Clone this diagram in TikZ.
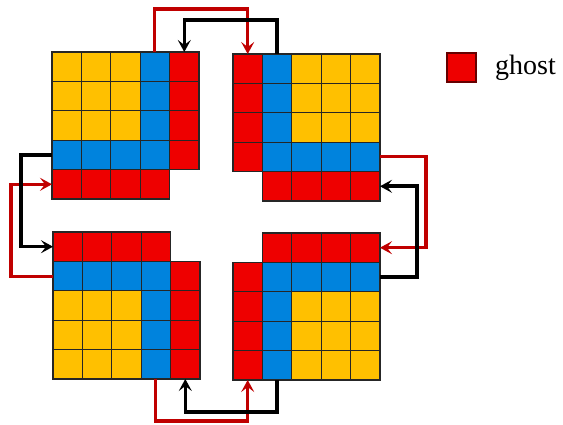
\documentclass[tikz,border=0pt]{standalone}
\usepackage{fontspec}
\setmainfont{Liberation Serif}
\usetikzlibrary{positioning, arrows.meta, calc}
\definecolor{ghostred}{HTML}{EE0000}
\definecolor{bandblue}{HTML}{0083DD}
\definecolor{coreyellow}{HTML}{FFC000}
\definecolor{linkred}{HTML}{C00000}

\tikzset{
  cell/.style={draw=black!85, line width=1.1pt, minimum size=29.4pt,
               inner sep=0pt, outer sep=0pt},
  cellY/.style={cell, fill=coreyellow},
  cellB/.style={cell, fill=bandblue},
  cellR/.style={cell, fill=ghostred},
  link/.style={line width=3.6pt, -{Stealth[length=12pt, width=13pt, inset=5pt]}},
  blacklink/.style={link, black},
  redlink/.style={link, linkred, line width=3.1pt}
}

% one 5x5 patch, rows top to bottom, N = no cell
\newcommand{\patch}[4]{%
  \foreach \cells [count=\r from 0] in {#4} {
    \foreach \c [count=\k from 0] in \cells {
      \if\c N\else
        \node[cell\c] (#1-\r-\k) at ({#2+\k*29.4+14.7},{#3-\r*29.4-14.7}) {};
      \fi
    }
  }}

\begin{document}
\begin{tikzpicture}[x=1pt, y=1pt]
  \useasboundingbox (0,0) rectangle (563,425);

  \patch{tl}{52}{373}{{Y,Y,Y,B,R},{Y,Y,Y,B,R},{Y,Y,Y,B,R},{B,B,B,B,R},{R,R,R,R,N}}
  \patch{tr}{233}{371}{{R,B,Y,Y,Y},{R,B,Y,Y,Y},{R,B,Y,Y,Y},{R,B,B,B,B},{N,R,R,R,R}}
  \patch{bl}{53}{193}{{R,R,R,R,N},{B,B,B,B,R},{Y,Y,Y,B,R},{Y,Y,Y,B,R},{Y,Y,Y,B,R}}
  \patch{br}{233}{192}{{N,R,R,R,R},{R,B,B,B,B},{R,B,Y,Y,Y},{R,B,Y,Y,Y},{R,B,Y,Y,Y}}

  % exchanges
  \draw[redlink] (tl-0-3.north) -- ++(0,43) -| (tr-0-0.north);
  \draw[redlink] (bl-1-0.west) -- ++(-42,0) |- (tl-4-0.west);
  \draw[redlink] (tr-3-4.east) -- ++(46,0) |- (br-0-4.east);
  \draw[redlink] (bl-4-3.south) -- ++(0,-42) -| (br-4-0.south);

  \draw[blacklink] (tr-0-1.north) -- ++(0,34) -| (tl-0-4.north);
  \draw[blacklink] (tl-3-0.west) -- ++(-31,0) |- (bl-0-0.west);
  \draw[blacklink] (br-1-4.east) -- ++(37,0) |- (tr-4-4.east);
  \draw[blacklink] (br-4-1.south) -- ++(0,-32) -| (bl-4-4.south);

  % legend
  \node[cellR, draw=black!60!red, minimum size=29pt] (legend) at (461.5,357.5) {};
  \node[right=19pt of legend, inner sep=0pt, font=\fontsize{28}{32}\selectfont] (legendtext) {ghost};
\end{tikzpicture}
\end{document}
